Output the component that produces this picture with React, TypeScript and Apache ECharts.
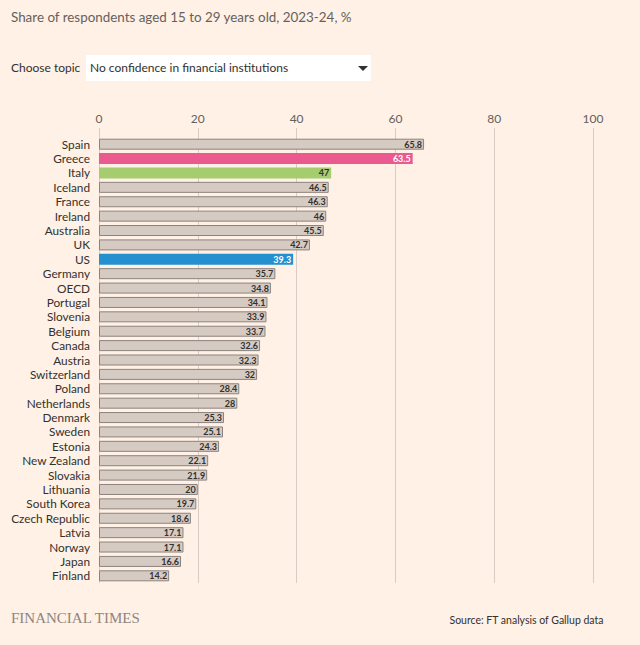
import React, { useEffect, useRef } from "react";
import * as echarts from "echarts";

const countries = [
  "Spain", "Greece", "Italy", "Iceland", "France", "Ireland", "Australia", "UK", "US",
  "Germany", "OECD", "Portugal", "Slovenia", "Belgium", "Canada", "Austria", "Switzerland",
  "Poland", "Netherlands", "Denmark", "Sweden", "Estonia", "New Zealand", "Slovakia",
  "Lithuania", "South Korea", "Czech Republic", "Latvia", "Norway", "Japan", "Finland",
];
const values = [
  65.8, 63.5, 47, 46.5, 46.3, 46, 45.5, 42.7, 39.3,
  35.7, 34.8, 34.1, 33.9, 33.7, 32.6, 32.3, 32,
  28.4, 28, 25.3, 25.1, 24.3, 22.1, 21.9,
  20, 19.7, 18.6, 17.1, 17.1, 16.6, 14.2,
];
const highlights: Record<string, string> = {
  Greece: "#ea5a8e",
  Italy: "#a6cc70",
  US: "#2590cf",
};
const whiteLabel = ["Greece", "US"];
const xTicks = [0, 20, 40, 60, 80, 100];

const TITLE = "Share of respondents aged 15 to 29 years old, 2023-24, %";
const TOPIC_LABEL = "Choose topic";
const TOPIC = "No confidence in financial institutions";
const SOURCE = "Source: FT analysis of Gallup data";
const BRAND = "FINANCIAL TIMES";

const FONT = "Lato, 'Open Sans', sans-serif";

export default function App() {
  const ref = useRef<HTMLDivElement>(null);
  useEffect(() => {
    document.body.style.margin = "0";
    if (!ref.current) return;
    const chart = echarts.init(ref.current, null, { renderer: "svg" });
    const data = countries.map((c, i) => {
      const hl = highlights[c];
      return {
        value: values[i],
        itemStyle: hl
          ? { color: hl, borderColor: hl, borderWidth: 0 }
          : { color: "#d6cbc3", borderColor: "#8c837e", borderWidth: 1 },
        label: { color: whiteLabel.includes(c) ? "#ffffff" : "#33302e" },
      };
    });
    chart.setOption({
      animation: false,
      backgroundColor: "#fff1e5",
      textStyle: { fontFamily: FONT },
      grid: { left: 99, right: 47, top: 137, bottom: 62, containLabel: false },
      xAxis: {
        type: "value",
        position: "top",
        min: xTicks[0],
        max: xTicks[xTicks.length - 1],
        interval: 20,
        axisLine: { show: false },
        axisTick: { show: true, length: 9, lineStyle: { color: "#d8cdc4", width: 1 } },
        splitLine: { show: true, lineStyle: { color: "#d8cdc4", width: 1 } },
        axisLabel: { color: "#66605c", fontSize: 12, margin: 13, fontFamily: FONT },
      },
      yAxis: {
        type: "category",
        data: countries,
        inverse: true,
        axisLine: { show: false },
        axisTick: { show: false },
        axisLabel: { interval: 0, color: "#33302e", fontSize: 11.8, margin: 9, fontFamily: FONT },
      },
      series: [
        {
          type: "bar",
          data,
          barWidth: 11,
          label: {
            show: true,
            position: "insideRight",
            distance: 2,
            fontSize: 9,
            fontWeight: "bold",
            fontFamily: FONT,
          },
        },
      ],
      graphic: [
        {
          type: "text",
          left: 11,
          top: 10,
          style: { text: TITLE, fill: "#66605c", font: `13.4px ${FONT}` },
        },
        {
          type: "text",
          left: 11,
          top: 61,
          style: { text: TOPIC_LABEL, fill: "#33302e", font: `12px ${FONT}` },
        },
        {
          type: "rect",
          shape: { x: 86, y: 55, width: 285, height: 26 },
          style: { fill: "#ffffff" },
        },
        {
          type: "text",
          left: 90,
          top: 61,
          style: { text: TOPIC, fill: "#33302e", font: `12px ${FONT}` },
        },
        {
          type: "polygon",
          shape: { points: [[358, 66], [368, 66], [363, 71]] },
          style: { fill: "#33302e" },
        },
        {
          type: "text",
          left: 11,
          top: 610,
          style: { text: BRAND, fill: "#8f8581", font: `15px 'Liberation Serif', 'DejaVu Serif', serif` },
        },
        {
          type: "text",
          right: 36,
          top: 614,
          style: { text: SOURCE, fill: "#33302e", font: `10.5px ${FONT}` },
        },
      ],
    });
    return () => chart.dispose();
  }, []);
  return <div ref={ref} style={{ width: 640, height: 645 }} />;
}
